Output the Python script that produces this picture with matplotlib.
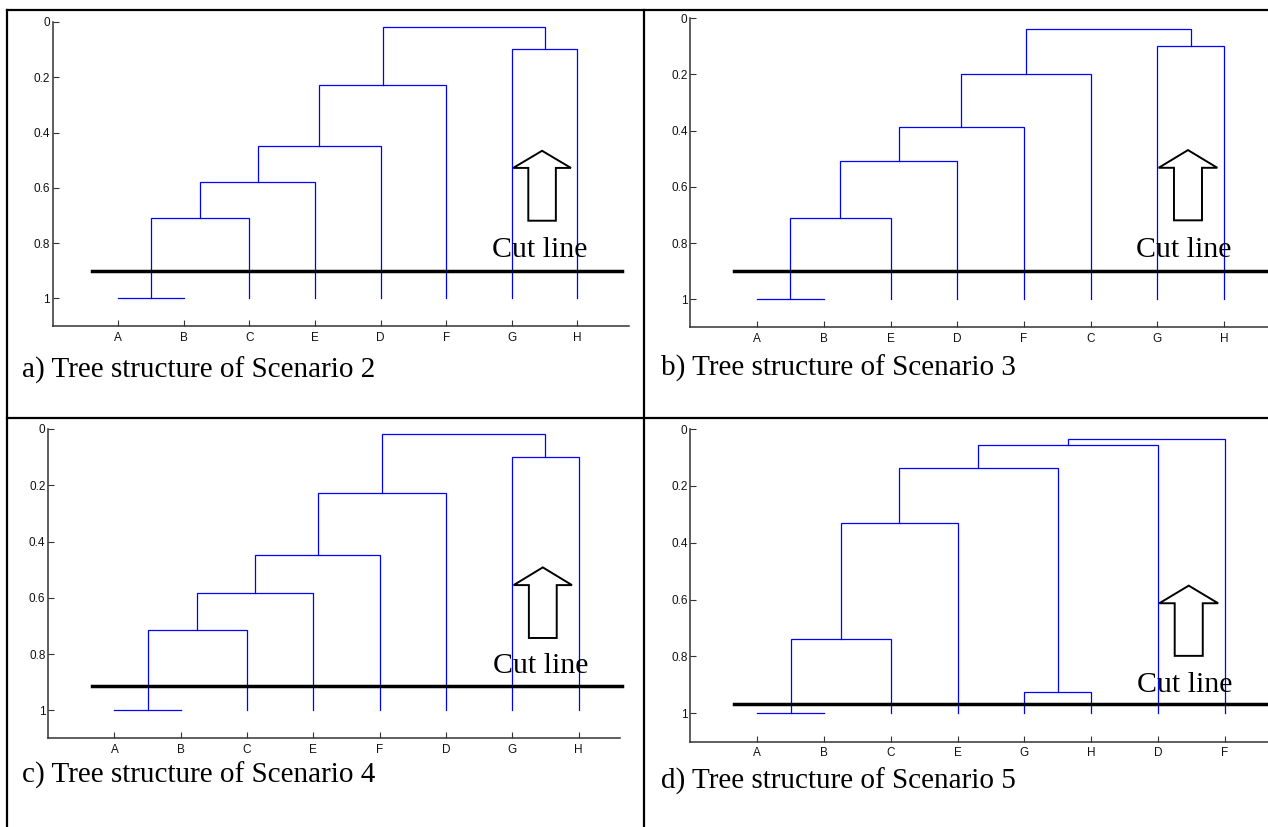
import matplotlib
matplotlib.use('agg')
import matplotlib.pyplot as plt

plt.rcParams['font.family'] = ['Liberation Sans', 'DejaVu Sans']

# leaf order on the x axis of each panel
leaves_a = ['A', 'B', 'C', 'E', 'D', 'F', 'G', 'H']
leaves_b = ['A', 'B', 'E', 'D', 'F', 'C', 'G', 'H']
leaves_c = ['A', 'B', 'C', 'E', 'F', 'D', 'G', 'H']
leaves_d = ['A', 'B', 'C', 'E', 'G', 'H', 'D', 'F']

# merges: (node i, node j, height); leaves are 0..7, new nodes get 8, 9, ...
merges_a = [(0, 1, 1.0), (8, 2, 0.711), (9, 3, 0.580), (10, 4, 0.448),
            (11, 5, 0.229), (6, 7, 0.098), (12, 13, 0.017)]
merges_b = [(0, 1, 1.0), (8, 2, 0.712), (9, 3, 0.507), (10, 4, 0.387),
            (11, 5, 0.197), (6, 7, 0.099), (12, 13, 0.039)]
merges_c = [(0, 1, 1.0), (8, 2, 0.713), (9, 3, 0.582), (10, 4, 0.447),
            (11, 5, 0.226), (6, 7, 0.098), (12, 13, 0.017)]
merges_d = [(0, 1, 1.0), (8, 2, 0.740), (9, 3, 0.330), (4, 5, 0.924),
            (10, 11, 0.136), (12, 6, 0.056), (13, 7, 0.035)]

# cut line: height, x start, x end
cut_a = (0.902, 0.60, 8.68)
cut_b = (0.899, 0.66, 9.0)
cut_c = (0.914, 0.66, 8.66)
cut_d = (0.967, 0.66, 9.0)

# arrow: tip y, head base y, shaft bottom y
arrow_a = (0.466, 0.528, 0.719)
arrow_b = (0.469, 0.532, 0.719)
arrow_c = (0.492, 0.555, 0.743)
arrow_d = (0.551, 0.613, 0.798)

# "Cut line" label: x, baseline y
label_a = (6.69, 0.850)
label_b = (6.68, 0.848)
label_c = (6.71, 0.868)
label_d = (6.68, 0.924)

# where each (cropped) x axis line stops
xaxis_end = [8.78, 9.0, 8.62, 9.0]

captions = ['a) Tree structure of Scenario 2', 'b) Tree structure of Scenario 3',
            'c) Tree structure of Scenario 4', 'd) Tree structure of Scenario 5']

yticks = [0, 0.2, 0.4, 0.6, 0.8, 1]
ytick_labels = ['0', '0.2', '0.4', '0.6', '0.8', '1']

W, H = 1268, 827
fig = plt.figure(figsize=(W / 100, H / 100), dpi=100)


def px_axes(left, top, right, bottom):
    return fig.add_axes([left / W, 1 - bottom / H, (right - left) / W, (bottom - top) / H])


def draw_tree(ax, merges):
    xs = list(range(1, 9))
    hs = [1.0] * 8
    for i, j, h in merges:
        ax.plot([xs[i], xs[i], xs[j], xs[j]], [hs[i], h, h, hs[j]],
                color='#0000ff', lw=0.9, solid_joinstyle='miter')
        xs.append((xs[i] + xs[j]) / 2)
        hs.append(h)


def draw_arrow(ax, arrow):
    tip, base, bottom = arrow
    xs = [7.46, 7.90, 7.67, 7.67, 7.25, 7.25, 7.02, 7.46]
    ys = [tip, base, base, bottom, bottom, base, base, tip]
    ax.fill(xs, ys, facecolor='none', edgecolor='black', lw=1.4, joinstyle='miter')


# axes boxes in pixels: left, top(y=0), right(x=9), bottom(y=1.1)
boxes = [(52.7, 22.0, 643.1, 326.0),
         (690.4, 18.3, 1290.7, 327.4),
         (48.2, 429.0, 644.9, 738.4),
         (690.4, 429.0, 1291.6, 741.7)]

panels = [(leaves_a, merges_a, cut_a, arrow_a, label_a),
          (leaves_b, merges_b, cut_b, arrow_b, label_b),
          (leaves_c, merges_c, cut_c, arrow_c, label_c),
          (leaves_d, merges_d, cut_d, arrow_d, label_d)]

for box, xend, (leaves, merges, cut, arrow, label) in zip(boxes, xaxis_end, panels):
    ax = px_axes(*box)
    draw_tree(ax, merges)
    ax.plot([cut[1], cut[2]], [cut[0], cut[0]], color='black', lw=2.5, clip_on=False)
    draw_arrow(ax, arrow)
    ax.text(label[0], label[1], 'Cut line', family='Liberation Serif', fontsize=21.5,
            ha='left', va='baseline')
    ax.set_xlim(0, 9)
    ax.set_ylim(1.1, 0)
    ax.set_xticks(range(1, 9))
    ax.set_xticklabels(leaves)
    ax.set_yticks(yticks)
    ax.set_yticklabels(ytick_labels)
    for s in ['top', 'right']:
        ax.spines[s].set_visible(False)
    for s in ['left', 'bottom']:
        ax.spines[s].set_color('#333333')
        ax.spines[s].set_linewidth(1.1)
    ax.spines['bottom'].set_bounds(0, xend)
    ax.tick_params(direction='in', length=4, width=0.8, color='#333333',
                   labelsize=8.5, labelcolor='#111111')
    ax.tick_params(axis='x', pad=4)
    ax.tick_params(axis='y', pad=2)
    ax.patch.set_alpha(0)

# captions below each plot (pixel positions, baseline)
cap_pos = [(22.4, 378), (660.6, 376), (22.4, 783), (660.6, 789)]
for (x, y), txt in zip(cap_pos, captions):
    fig.text(x / W, 1 - y / H, txt, family='Liberation Serif', fontsize=21,
             ha='left', va='baseline')

# table grid
grid = dict(color='black', lw=1.6, transform=fig.transFigure, clip_on=False)
fig.add_artist(plt.Line2D([7.3 / W, 1], [1 - 10 / H, 1 - 10 / H], **grid))
fig.add_artist(plt.Line2D([7.3 / W, 7.3 / W], [1 - 10 / H, 0], **grid))
fig.add_artist(plt.Line2D([644.5 / W, 644.5 / W], [1 - 10 / H, 0], **grid))
fig.add_artist(plt.Line2D([7.3 / W, 1], [1 - 417.5 / H, 1 - 417.5 / H], **grid))

fig.savefig('out.png', dpi=100)
